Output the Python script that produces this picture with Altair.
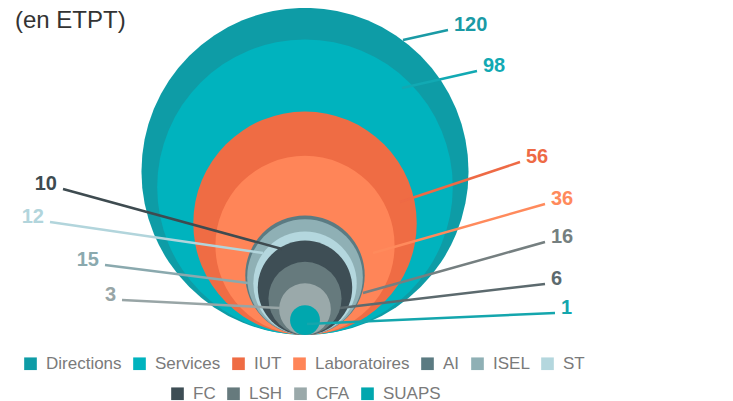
import altair as alt
import pandas as pd

# ---- data ----
categories = ["Directions", "Services", "IUT", "Laboratoires", "AI", "ISEL", "ST",
              "FC", "LSH", "CFA", "SUAPS"]
values = [120, 98, 56, 36, 16, 15, 12, 10, 6, 3, 1]
legend_row = [1, 1, 1, 1, 1, 1, 1, 2, 2, 2, 2]
title_text = "(en ETPT)"

# ---- style ----
colors = ["#0e9ca6", "#00b3be", "#ef6c44", "#ff8558", "#5b7b82", "#8fb0b5", "#b4d7de",
          "#3e4e55", "#667a7d", "#9aa9aa", "#00a7ae"]
label_colors = ["#1a9aa5", "#12a9b3", "#ee6a45", "#ff8a5c", "#757f80", "#8aa9ae", "#b2d5dc",
                "#3e4b50", "#5c6a6e", "#98a5a6", "#14a6ad"]

# ---- leader-line layout (pixels in the plot area) ----
label_side = ["right", "right", "right", "right", "right", "left", "left",
              "left", "right", "left", "right"]
line_label_x = [440, 469, 512, 537, 537, 97, 42, 55, 537, 114, 547]
line_label_y = [22, 63, 154, 196, 234, 257, 214, 181, 276, 292, 305]
line_circle_x = [395, 394, 392, 365, 355, 240, 255, 274, 332, 272, 299]
line_circle_y = [32, 80, 194, 245, 285, 275, 245, 241, 300, 300, 316]

W, H = 717, 400
K = 14.93        # px of radius per sqrt(unit)
BASE = 327       # common bottom of the circles
CX = 297         # common centre x

df = pd.DataFrame({
    "category": categories,
    "value": values,
    "row": legend_row,
    "lcolor": label_colors,
    "side": label_side,
    "lx": line_label_x,
    "ly": line_label_y,
    "cx": line_circle_x,
    "cy": line_circle_y,
})

xs = alt.Scale(domain=[0, W], nice=False, zero=False)
ys = alt.Scale(domain=[0, H], reverse=True, nice=False, zero=False)
# Vega symbol size = area of the bounding square -> (2r)^2
size_scale = alt.Scale(domain=[0, 120], range=[0, 4 * K * K * 120])

base = alt.Chart(df)

circ = base.transform_calculate(
    r=f"{K} * sqrt(datum.value)"
).transform_calculate(
    ccy=f"{BASE} - datum.r"
)

leg_common = dict(orient="none", direction="horizontal", title=None,
                  symbolType="square", symbolSize=160, symbolStrokeWidth=0,
                  labelFontSize=17, labelFont="Liberation Sans", labelColor="#7a7a7a",
                  labelOffset=7, columnPadding=9, padding=0)

circles1 = circ.transform_filter("datum.row == 1").mark_circle(opacity=1).encode(
    x=alt.value(CX),
    y=alt.Y("ccy:Q", scale=ys, axis=None),
    size=alt.Size("value:Q", scale=size_scale, legend=None),
    color=alt.Color("category:N",
                    scale=alt.Scale(domain=categories[:7], range=colors[:7]),
                    legend=alt.Legend(legendX=14, legendY=347, **leg_common)),
    order=alt.Order("value:Q", sort="descending"),
)

circles2 = circ.transform_filter("datum.row == 2").mark_circle(opacity=1).encode(
    x=alt.value(CX),
    y=alt.Y("ccy:Q", scale=ys, axis=None),
    size=alt.Size("value:Q", scale=size_scale, legend=None),
    fill=alt.Fill("category:N",
                  scale=alt.Scale(domain=categories[7:], range=colors[7:]),
                  legend=alt.Legend(legendX=161, legendY=377, **leg_common)),
    order=alt.Order("value:Q", sort="descending"),
)

rules = base.mark_rule(strokeWidth=2.5).encode(
    x=alt.X("lx:Q", scale=xs, axis=None),
    y=alt.Y("ly:Q", scale=ys, axis=None),
    x2="cx:Q",
    y2="cy:Q",
    stroke=alt.Stroke("lcolor:N", scale=None, legend=None),
)

lab_font = dict(font="Liberation Sans", fontSize=20, fontWeight="bold", baseline="alphabetic", dy=1)
labels_r = base.transform_filter("datum.side == 'right'").mark_text(
    align="left", dx=6, **lab_font).encode(
    x=alt.X("lx:Q", scale=xs, axis=None),
    y=alt.Y("ly:Q", scale=ys, axis=None),
    text=alt.Text("value:Q"),
    color=alt.Color("lcolor:N", scale=None, legend=None),
)
labels_l = base.transform_filter("datum.side == 'left'").mark_text(
    align="right", dx=-6, **lab_font).encode(
    x=alt.X("lx:Q", scale=xs, axis=None),
    y=alt.Y("ly:Q", scale=ys, axis=None),
    text=alt.Text("value:Q"),
    color=alt.Color("lcolor:N", scale=None, legend=None),
)

title = alt.Chart(pd.DataFrame({"t": [title_text]})).mark_text(
    align="left", baseline="alphabetic", font="Liberation Sans", fontSize=24, color="#333333"
).encode(x=alt.value(7), y=alt.value(20), text="t:N")

chart = alt.layer(circles1, circles2, rules, labels_r, labels_l, title).resolve_scale(
    color="independent"
).properties(
    width=W, height=H, padding=0, autosize="none"
).configure_view(stroke=None)

chart.save("out.html", embed_options={"renderer": "svg", "actions": False})
